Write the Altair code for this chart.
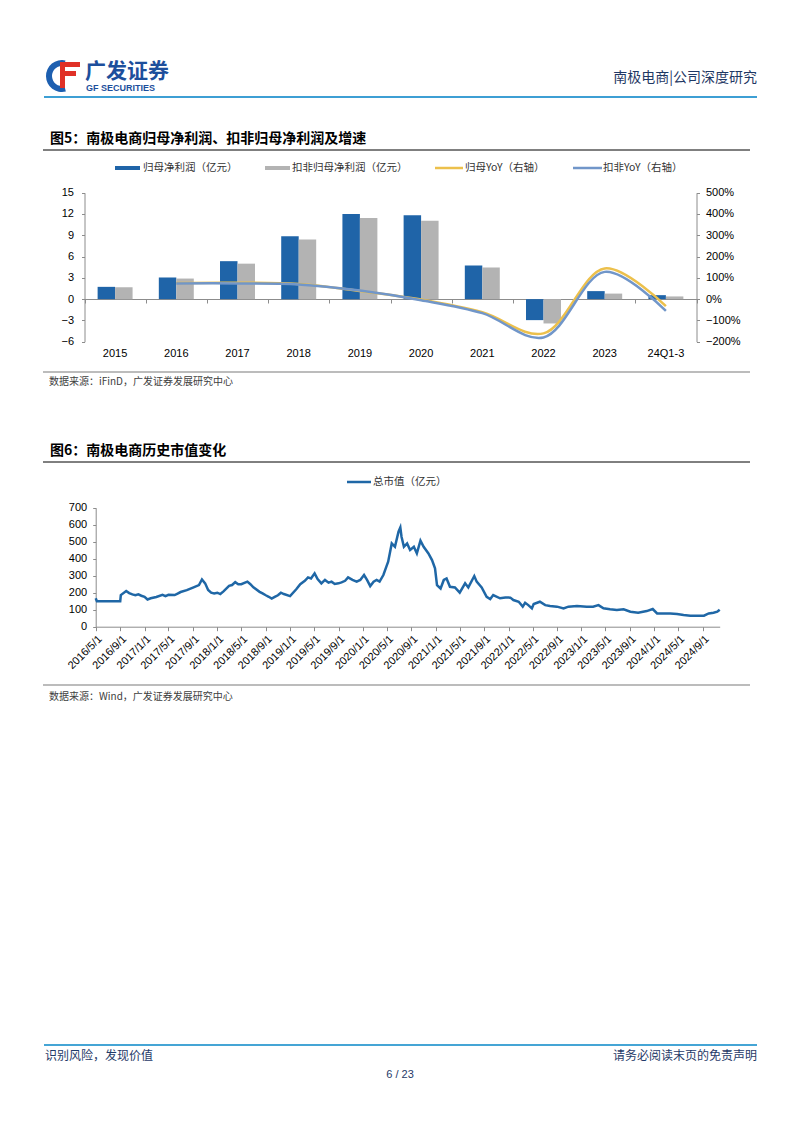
import altair as alt
import pandas as pd

CJK = "Noto Sans CJK SC"
LAT = "Liberation Sans"
W, H = 770, 1100

# ---------------- Figure 5 data ----------------
years = ["2015", "2016", "2017", "2018", "2019", "2020", "2021", "2022", "2023", "24Q1-3"]
np_parent = [1.73, 3.05, 5.35, 8.87, 12.0, 11.83, 4.74, -2.96, 1.13, 0.56]
np_deducted = [1.68, 2.90, 5.00, 8.40, 11.45, 11.03, 4.46, -3.43, 0.78, 0.38]
yoy_years = years[1:]
yoy_parent = [0.76, 0.77, 0.71, 0.38, -0.02, -0.62, -1.61, 1.44, -0.33]
yoy_deducted = [0.74, 0.74, 0.69, 0.40, -0.05, -0.66, -1.80, 1.28, -0.55]
series_names = ["归母净利润（亿元）", "扣非归母净利润（亿元）"]

# ---------------- Figure 6 data ----------------
mc_dates = [
    "2016-05-01", "2016-05-07", "2016-09-01", "2016-09-04", "2016-10-01", "2016-10-16", "2016-11-01",
    "2016-11-16", "2016-12-01", "2016-12-16", "2017-01-01", "2017-01-16", "2017-02-01", "2017-03-01",
    "2017-04-01", "2017-04-16", "2017-05-01", "2017-06-01", "2017-06-16", "2017-07-01", "2017-08-01",
    "2017-09-01", "2017-10-01", "2017-10-16", "2017-11-01", "2017-11-16", "2017-12-01", "2017-12-16",
    "2018-01-01", "2018-01-16", "2018-02-01", "2018-03-01", "2018-03-16", "2018-04-01", "2018-04-16",
    "2018-05-01", "2018-06-01", "2018-06-16", "2018-07-01", "2018-08-01", "2018-08-16", "2018-09-01",
    "2018-09-16", "2018-10-01", "2018-10-16", "2018-11-01", "2018-11-16", "2018-12-01", "2019-01-01",
    "2019-02-01", "2019-02-21", "2019-03-16", "2019-04-01", "2019-04-16", "2019-05-04", "2019-05-19",
    "2019-06-07", "2019-06-25", "2019-07-13", "2019-07-28", "2019-08-13", "2019-09-01", "2019-09-16",
    "2019-10-04", "2019-10-19", "2019-11-10", "2019-12-01", "2019-12-19", "2020-01-07", "2020-01-22",
    "2020-02-07", "2020-02-24", "2020-03-10", "2020-03-25", "2020-04-13", "2020-04-28", "2020-05-07",
    "2020-05-25", "2020-06-10", "2020-06-28", "2020-07-07", "2020-07-13", "2020-07-25", "2020-08-10",
    "2020-08-25", "2020-09-13", "2020-09-28", "2020-10-16", "2020-11-01", "2020-11-25", "2020-12-13",
    "2020-12-28", "2021-01-07", "2021-01-25", "2021-02-10", "2021-02-24", "2021-03-13", "2021-04-07",
    "2021-05-01", "2021-05-28", "2021-06-13", "2021-07-13", "2021-07-25", "2021-08-19", "2021-09-13",
    "2021-10-01", "2021-10-16", "2021-11-19", "2021-12-16", "2022-01-10", "2022-01-25", "2022-02-21",
    "2022-03-13", "2022-03-25", "2022-04-10", "2022-04-28", "2022-05-07", "2022-06-07", "2022-07-04",
    "2022-07-28", "2022-09-01", "2022-10-04", "2022-10-28", "2022-12-10", "2023-01-28", "2023-03-01",
    "2023-03-28", "2023-04-22", "2023-05-25", "2023-06-28", "2023-08-01", "2023-09-04", "2023-10-13",
    "2023-11-25", "2023-12-25", "2024-01-16", "2024-02-19", "2024-03-22", "2024-04-25", "2024-05-28",
    "2024-07-01", "2024-08-04", "2024-09-07", "2024-10-01", "2024-10-25", "2024-11-13", "2024-11-25",
]
mc_values = [
    167, 150, 150, 186, 210, 198, 190,
    185, 190, 182, 176, 160, 167, 175,
    188, 180, 188, 186, 195, 204, 215,
    230, 245, 278, 255, 216, 200, 196,
    200, 192, 208, 240, 245, 262, 250,
    250, 265, 250, 232, 205, 196, 185,
    176, 165, 175, 185, 200, 192, 180,
    220, 250, 270, 290, 284, 314, 280,
    255, 275, 259, 265, 251, 255, 261,
    270, 290, 275, 265, 275, 304, 275,
    239, 265, 275, 265, 304, 353, 382,
    490, 470, 559, 584, 529, 470, 490,
    451, 470, 431, 506, 470, 431, 392,
    343, 245, 225, 275, 284, 235, 231,
    200, 255, 231, 298, 265, 231, 176,
    163, 186, 167, 172, 171, 157, 147,
    118, 141, 127, 108, 133, 147, 127,
    122, 118, 108, 118, 122, 118, 118,
    127, 108, 102, 98, 102, 88, 82,
    92, 104, 78, 78, 78, 75, 69,
    65, 65, 65, 78, 82, 88, 100,
]
tick_dates = [(2016 + (4 + 4 * i) // 12, (4 + 4 * i) % 12 + 1) for i in range(26)]

# ---------------- helpers for page decorations ----------------
def dummy():
    return alt.Data(values=[{"k": 0}])

def text(s, x, y, size, color, weight="normal", align="left", font=CJK):
    return alt.Chart(dummy()).mark_text(
        text=s, align=align, baseline="middle", fontSize=size, font=font,
        fontWeight=weight, color=color
    ).encode(x=alt.value(x), y=alt.value(y))

def hline(x1, x2, y, color, w):
    return alt.Chart(dummy()).mark_rule(color=color, strokeWidth=w).encode(
        x=alt.value(x1), x2=alt.value(x2), y=alt.value(y))

def rect(x1, x2, y1, y2, color):
    return alt.Chart(dummy()).mark_rect(color=color).encode(
        x=alt.value(x1), x2=alt.value(x2), y=alt.value(y1), y2=alt.value(y2))

NAVY = "#1f3a68"
LEG = 10.5
decos = [
    # header
    alt.Chart(dummy()).mark_arc(color="#1d5fb0", radius=16, radius2=10, theta=2.9, theta2=6.5)
    .encode(x=alt.value(54), y=alt.value(68)),
    rect(52, 72, 54, 59, "#e03127"),
    rect(52, 68, 63, 68, "#e03127"),
    rect(52, 57, 54, 80, "#e03127"),
    text("广发证券", 77, 64, 21, "#1d4f9c", "bold"),
    text("GF SECURITIES", 78, 80, 9, "#1d4f9c", "bold", font=LAT),
    text("南极电商|公司深度研究", 749, 70, 14, "#1f3864", align="right"),
    hline(36, 749, 89, "#3d9fd4", 2),
    # figure 5 frame
    text("图5：南极电商归母净利润、扣非归母净利润及增速", 42, 131, 14, "#000000", "bold"),
    hline(35, 742, 142, "#000000", 1),
    rect(107, 132, 158, 162, "#1f64a8"),
    text("归母净利润（亿元）", 135, 160, LEG, "#333333"),
    rect(257, 282, 158, 162, "#b3b3b3"),
    text("扣非归母净利润（亿元）", 284, 160, LEG, "#333333"),
    hline(427, 455, 160, "#ecc04c", 2.5),
    text("归母YoY（右轴）", 457, 160, LEG, "#333333"),
    hline(565, 594, 160, "#7196c9", 2.5),
    text("扣非YoY（右轴）", 595, 160, LEG, "#333333"),
    hline(35, 742, 364, "#a6a6a6", 1.5),
    text("数据来源：iFinD，广发证券发展研究中心", 41, 374, 10, "#404040"),
    # figure 6 frame
    text("图6：南极电商历史市值变化", 42, 443, 14, "#000000", "bold"),
    hline(35, 742, 454, "#000000", 1),
    hline(339, 363, 474, "#1f67a6", 2.5),
    text("总市值（亿元）", 365, 474, LEG, "#333333"),
    hline(35, 742, 677, "#a6a6a6", 1.5),
    text("数据来源：Wind，广发证券发展研究中心", 41, 689, 10, "#404040"),
    # footer
    hline(36, 749, 1037, "#45a5d5", 2),
    text("识别风险，发现价值", 37, 1048, 12, NAVY),
    text("请务必阅读末页的免责声明", 749, 1048, 12, NAVY, align="right"),
    text("6 / 23", 392, 1067, 11, NAVY, align="center", font=LAT),
]

# ---------------- Figure 5 chart ----------------
bar_df = pd.DataFrame({
    "year": years * 2,
    "series": [series_names[0]] * len(years) + [series_names[1]] * len(years),
    "value": np_parent + np_deducted,
})
yoy_df = pd.DataFrame({"year": yoy_years, "parent": yoy_parent, "deducted": yoy_deducted})

xsc = alt.Scale(domain=years, range=[76.5, 688.5], paddingInner=0, paddingOuter=0)
ysc_left = alt.Scale(domain=[-6, 15], range=[333.7, 184.7], nice=False, zero=False)
ysc_right = alt.Scale(domain=[-2, 5], range=[333.7, 184.7], nice=False, zero=False)
AX = dict(labelFont=LAT, labelFontSize=11, labelColor="#000000", domainColor="#8c8c8c",
          tickColor="#8c8c8c", title=None, grid=False)

zero_axis = alt.Axis(orient="bottom", offset=291 - H, labels=False, ticks=True, tickSize=4,
                     tickBand="extent", domain=True, **AX)
label_axis = alt.Axis(orient="bottom", offset=333.7 - H, labels=True, ticks=False,
                      domain=False, labelPadding=6, labelAngle=0, **AX)
left_axis = alt.Axis(orient="left", offset=-76.5, values=[-6, -3, 0, 3, 6, 9, 12, 15],
                     tickSize=3, labelPadding=8, **AX)
right_axis = alt.Axis(orient="right", offset=688.5 - W, values=[-2, -1, 0, 1, 2, 3, 4, 5],
                      format=".0%", tickSize=3, labelPadding=6, **AX)

bars = alt.Chart(bar_df).mark_bar().encode(
    x=alt.X("year:N", sort=years, scale=xsc, axis=zero_axis),
    xOffset=alt.XOffset("series:N", sort=series_names,
                        scale=alt.Scale(paddingInner=0, paddingOuter=0.75)),
    y=alt.Y("value:Q", scale=ysc_left, axis=left_axis),
    color=alt.Color("series:N", scale=alt.Scale(domain=series_names,
                                                range=["#1f64a8", "#b3b3b3"]), legend=None),
)
bar_labels = alt.Chart(bar_df).mark_bar(opacity=0).encode(
    x=alt.X("year:N", sort=years, scale=xsc, axis=label_axis),
    y=alt.Y("value:Q", scale=ysc_left, axis=left_axis),
)
bar_part = alt.layer(bars, bar_labels).resolve_axis(x="independent")

line_parent = alt.Chart(yoy_df).mark_line(
    color="#ecc04c", strokeWidth=2.5, interpolate="catmull-rom").encode(
    x=alt.X("year:N", sort=years, scale=xsc, axis=None),
    y=alt.Y("parent:Q", scale=ysc_right, axis=right_axis),
)
line_deducted = alt.Chart(yoy_df).mark_line(
    color="#7196c9", strokeWidth=2.5, interpolate="catmull-rom").encode(
    x=alt.X("year:N", sort=years, scale=xsc, axis=None),
    y=alt.Y("deducted:Q", scale=ysc_right, axis=right_axis),
)
line_part = alt.layer(line_parent, line_deducted)

fig5 = alt.layer(bar_part, line_part).resolve_scale(y="independent").resolve_axis(
    x="independent", y="independent")

# ---------------- Figure 6 chart ----------------
mc_df = pd.DataFrame({"date": mc_dates, "cap": mc_values})
tick_vals = [alt.DateTime(year=y, month=m, date=1, utc=True) for (y, m) in tick_dates
             if (y, m) <= (2024, 9)]
xsc2 = alt.Scale(type="utc",
                 domain=[alt.DateTime(year=2016, month=5, date=1, utc=True),
                         alt.DateTime(year=2024, month=11, date=25, utc=True)],
                 range=[87.7, 711.7], nice=False)
ysc2 = alt.Scale(domain=[0, 700], range=[618.7, 499.7], nice=False)
fig6 = alt.Chart(mc_df).mark_line(color="#1f67a6", strokeWidth=2.5).encode(
    x=alt.X("date:T", scale=xsc2,
            axis=alt.Axis(orient="bottom", offset=618.7 - H, values=tick_vals,
                          labelExpr="utcFormat(datum.value, '%Y/%-m/%-d')",
                          labelAngle=315, labelAlign="right", labelBaseline="top",
                          labelOverlap=False, labelBound=False, labelFlush=False,
                          tickSize=4, labelPadding=2, **{**AX, "labelFontSize": 11})),
    y=alt.Y("cap:Q", scale=ysc2,
            axis=alt.Axis(orient="left", offset=-87.7, values=[0, 100, 200, 300, 400, 500, 600, 700],
                          tickSize=3, labelPadding=6, **AX)),
)

chart = alt.layer(*decos, fig5, fig6).resolve_scale(
    x="independent", y="independent").resolve_axis(x="independent", y="independent").properties(
    width=W, height=H, autosize=alt.AutoSizeParams(type="none"), padding=0, background="white"
).configure_view(stroke=None)

chart.save("out.html", embed_options={"renderer": "svg", "actions": False})
